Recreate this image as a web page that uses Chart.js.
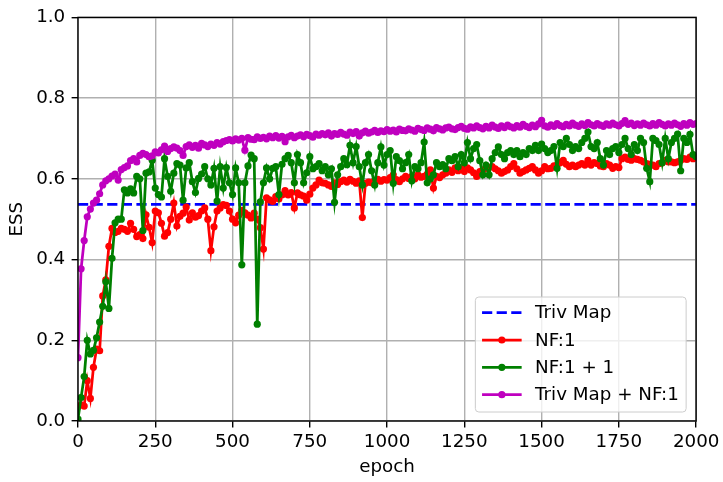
<!DOCTYPE html>
<html><head><meta charset="utf-8">
<script src="https://cdn.jsdelivr.net/npm/chart.js@4.4.0/dist/chart.umd.min.js"></script>
<style>html,body{margin:0;padding:0;background:#fff;}canvas{display:block;}</style>
</head><body>
<canvas id="c" width="723" height="482"></canvas>
<script>
const epochs = [
  0,10,20,30,40,50,60,70,80,90,
  100,110,120,130,140,150,160,170,180,190,
  200,210,220,230,240,250,260,270,280,290,
  300,310,320,330,340,350,360,370,380,390,
  400,410,420,430,440,450,460,470,480,490,
  500,510,520,530,540,550,560,570,580,590,
  600,610,620,630,640,650,660,670,680,690,
  700,710,720,730,740,750,760,770,780,790,
  800,810,820,830,840,850,860,870,880,890,
  900,910,920,930,940,950,960,970,980,990,
  1000,1010,1020,1030,1040,1050,1060,1070,1080,1090,
  1100,1110,1120,1130,1140,1150,1160,1170,1180,1190,
  1200,1210,1220,1230,1240,1250,1260,1270,1280,1290,
  1300,1310,1320,1330,1340,1350,1360,1370,1380,1390,
  1400,1410,1420,1430,1440,1450,1460,1470,1480,1490,
  1500,1510,1520,1530,1540,1550,1560,1570,1580,1590,
  1600,1610,1620,1630,1640,1650,1660,1670,1680,1690,
  1700,1710,1720,1730,1740,1750,1760,1770,1780,1790,
  1800,1810,1820,1830,1840,1850,1860,1870,1880,1890,
  1900,1910,1920,1930,1940,1950,1960,1970,1980,1990,
  2000
];

const trivMapESS = 0.537;

const nf1 = [
  0.035,0.040,0.037,0.100,0.056,0.133,0.178,0.174,0.310,0.350,
  0.433,0.477,0.467,0.470,0.477,0.475,0.470,0.490,0.475,0.457,
  0.462,0.452,0.511,0.480,0.442,0.520,0.516,0.490,0.458,0.467,
  0.500,0.540,0.483,0.507,0.515,0.530,0.498,0.516,0.505,0.509,
  0.520,0.528,0.500,0.422,0.481,0.520,0.528,0.536,0.534,0.520,
  0.500,0.491,0.510,0.522,0.516,0.510,0.503,0.515,0.500,0.479,
  0.426,0.553,0.548,0.544,0.556,0.550,0.560,0.571,0.560,0.566,
  0.528,0.565,0.560,0.557,0.547,0.562,0.577,0.585,0.597,0.590,
  0.589,0.585,0.581,0.590,0.586,0.593,0.597,0.592,0.599,0.594,
  0.589,0.595,0.504,0.589,0.592,0.590,0.596,0.599,0.594,0.598,
  0.597,0.603,0.610,0.598,0.593,0.600,0.606,0.601,0.606,0.600,
  0.610,0.604,0.606,0.612,0.622,0.577,0.606,0.603,0.610,0.614,
  0.622,0.616,0.627,0.620,0.627,0.618,0.627,0.622,0.615,0.606,
  0.618,0.622,0.626,0.628,0.630,0.625,0.620,0.614,0.618,0.622,
  0.630,0.638,0.625,0.614,0.618,0.622,0.626,0.630,0.622,0.614,
  0.620,0.630,0.625,0.626,0.632,0.634,0.640,0.646,0.636,0.630,
  0.634,0.630,0.634,0.638,0.634,0.646,0.634,0.640,0.638,0.632,
  0.630,0.638,0.634,0.626,0.630,0.628,0.650,0.654,0.648,0.646,
  0.650,0.648,0.646,0.642,0.638,0.636,0.634,0.630,0.638,0.640,
  0.646,0.642,0.642,0.640,0.642,0.646,0.650,0.648,0.654,0.650,
  0.654
];

const nf1plus1 = [
  0.005,0.058,0.110,0.200,0.166,0.175,0.206,0.245,0.284,0.345,
  0.279,0.403,0.491,0.500,0.500,0.573,0.565,0.575,0.565,0.606,
  0.600,0.472,0.614,0.617,0.646,0.577,0.561,0.555,0.650,0.606,
  0.569,0.614,0.638,0.634,0.547,0.627,0.640,0.593,0.566,0.601,
  0.612,0.630,0.600,0.585,0.626,0.545,0.630,0.577,0.628,0.590,
  0.561,0.627,0.590,0.387,0.590,0.632,0.659,0.650,0.240,0.543,
  0.590,0.627,0.600,0.626,0.630,0.561,0.636,0.650,0.658,0.640,
  0.590,0.660,0.640,0.590,0.615,0.655,0.625,0.630,0.638,0.620,
  0.630,0.610,0.625,0.542,0.610,0.630,0.650,0.635,0.683,0.640,
  0.680,0.630,0.585,0.640,0.660,0.620,0.585,0.640,0.679,0.634,
  0.660,0.670,0.589,0.655,0.645,0.625,0.640,0.660,0.595,0.630,
  0.625,0.640,0.691,0.590,0.600,0.610,0.640,0.630,0.635,0.625,
  0.650,0.645,0.655,0.630,0.660,0.640,0.690,0.650,0.675,0.685,
  0.645,0.610,0.634,0.610,0.650,0.665,0.679,0.660,0.650,0.665,
  0.670,0.660,0.670,0.655,0.665,0.660,0.675,0.670,0.683,0.670,
  0.686,0.675,0.665,0.670,0.680,0.626,0.690,0.680,0.700,0.685,
  0.670,0.680,0.675,0.690,0.700,0.716,0.680,0.675,0.690,0.650,
  0.634,0.670,0.660,0.675,0.680,0.665,0.685,0.700,0.675,0.660,
  0.685,0.670,0.700,0.690,0.626,0.593,0.700,0.695,0.685,0.640,
  0.700,0.650,0.690,0.700,0.711,0.620,0.700,0.690,0.710,0.660,
  0.655
];

const trivMapNf1 = [
  0.157,0.377,0.447,0.506,0.525,0.540,0.547,0.563,0.585,0.595,
  0.600,0.607,0.612,0.597,0.623,0.628,0.632,0.645,0.650,0.642,
  0.658,0.663,0.660,0.655,0.657,0.667,0.664,0.672,0.681,0.668,
  0.675,0.679,0.676,0.670,0.658,0.680,0.684,0.678,0.683,0.676,
  0.688,0.684,0.680,0.686,0.683,0.690,0.686,0.692,0.695,0.697,
  0.694,0.699,0.696,0.700,0.671,0.702,0.698,0.697,0.704,0.700,
  0.703,0.699,0.706,0.702,0.707,0.701,0.705,0.692,0.704,0.708,
  0.702,0.706,0.709,0.704,0.710,0.707,0.703,0.711,0.708,0.712,
  0.709,0.714,0.706,0.712,0.710,0.715,0.711,0.708,0.716,0.712,
  0.717,0.706,0.714,0.718,0.713,0.716,0.720,0.715,0.719,0.717,
  0.722,0.718,0.721,0.716,0.723,0.720,0.719,0.724,0.721,0.718,
  0.725,0.722,0.720,0.726,0.723,0.719,0.727,0.724,0.721,0.726,
  0.728,0.724,0.722,0.727,0.730,0.725,0.723,0.729,0.726,0.731,
  0.727,0.724,0.730,0.726,0.733,0.728,0.725,0.731,0.727,0.733,
  0.729,0.726,0.732,0.728,0.735,0.730,0.727,0.733,0.729,0.736,
  0.745,0.731,0.728,0.734,0.730,0.737,0.732,0.729,0.735,0.731,
  0.738,0.733,0.730,0.736,0.732,0.739,0.734,0.731,0.737,0.733,
  0.730,0.736,0.733,0.738,0.734,0.731,0.737,0.744,0.735,0.738,
  0.732,0.736,0.733,0.738,0.734,0.731,0.737,0.733,0.739,0.735,
  0.731,0.736,0.733,0.738,0.734,0.730,0.737,0.733,0.739,0.735,
  0.737
];

const xTicks = [0,250,500,750,1000,1250,1500,1750,2000];
const yTicks = [0.0,0.2,0.4,0.6,0.8,1.0];
const seriesLabels = ['Triv Map','NF:1','NF:1 + 1','Triv Map + NF:1'];
const seriesColors = ['#0000ff','#ff0000','#008000','#bf00bf'];

const FONT = 'DejaVu Sans';
const FS = 18.3;
const LW = 2.75;
const DASH = [10.2, 4.4];
const MR = 3.6;

function pts(ys){ return epochs.map((e,i)=>({x:e, y:ys[i]})); }

const seriesDefs = [
  {label: seriesLabels[0], color: seriesColors[0], data: [{x:epochs[0],y:trivMapESS},{x:epochs[epochs.length-1],y:trivMapESS}], dashed:true, marker:false},
  {label: seriesLabels[1], color: seriesColors[1], data: pts(nf1), dashed:false, marker:true},
  {label: seriesLabels[2], color: seriesColors[2], data: pts(nf1plus1), dashed:false, marker:true},
  {label: seriesLabels[3], color: seriesColors[3], data: pts(trivMapNf1), dashed:false, marker:true},
];

// Chart.js draws index 0 on top, so reverse (later-plotted series on top)
const datasets = seriesDefs.slice().reverse().map(s => ({
  label: s.label,
  data: s.data,
  borderColor: s.color,
  backgroundColor: s.color,
  borderWidth: LW,
  borderDash: s.dashed ? DASH : [],
  pointRadius: s.marker ? MR : 0,
  pointBorderWidth: 0,
  pointBackgroundColor: s.color,
  pointHoverRadius: 0,
  tension: 0,
  fill: false,
  clip: 0
}));

const frame = {
  id: 'frame',
  afterDatasetsDraw(chart){
    const {ctx, chartArea:a} = chart;
    ctx.save();
    ctx.strokeStyle = '#000';
    ctx.lineWidth = 1.4;
    ctx.strokeRect(a.left, a.top, a.right - a.left, a.bottom - a.top);
    ctx.restore();
  },
  afterDraw(chart){
    const {ctx, chartArea:a} = chart;
    ctx.save();
    ctx.font = FS + 'px "' + FONT + '"';
    let maxW = 0;
    seriesDefs.forEach(s => { maxW = Math.max(maxW, ctx.measureText(s.label).width); });
    const padL = 6.7, handle = 39.6, gap = 13.4, padR = 7.3;
    const w = padL + handle + gap + maxW + padR;
    const h = 115;
    const right = a.right - 10, bottom = a.bottom - 9;
    const left = right - w, top = bottom - h;
    const r = 3.5;
    ctx.beginPath();
    ctx.moveTo(left + r, top);
    ctx.lineTo(right - r, top);
    ctx.quadraticCurveTo(right, top, right, top + r);
    ctx.lineTo(right, bottom - r);
    ctx.quadraticCurveTo(right, bottom, right - r, bottom);
    ctx.lineTo(left + r, bottom);
    ctx.quadraticCurveTo(left, bottom, left, bottom - r);
    ctx.lineTo(left, top + r);
    ctx.quadraticCurveTo(left, top, left + r, top);
    ctx.closePath();
    ctx.fillStyle = 'rgba(255,255,255,0.8)';
    ctx.fill();
    ctx.strokeStyle = '#cccccc';
    ctx.lineWidth = 1;
    ctx.stroke();
    const rows = [15.7, 43, 70.3, 97.7];
    seriesDefs.forEach((s, i) => {
      const y = top + rows[i];
      const x0 = left + padL, x1 = x0 + handle;
      ctx.beginPath();
      ctx.setLineDash(s.dashed ? DASH : []);
      ctx.strokeStyle = s.color;
      ctx.lineWidth = LW;
      ctx.moveTo(x0, y); ctx.lineTo(x1, y);
      ctx.stroke();
      ctx.setLineDash([]);
      if (s.marker) {
        ctx.beginPath();
        ctx.fillStyle = s.color;
        ctx.arc((x0 + x1) / 2, y, MR, 0, Math.PI * 2);
        ctx.fill();
      }
      ctx.fillStyle = '#000';
      ctx.textAlign = 'left';
      ctx.textBaseline = 'middle';
      ctx.fillText(s.label, x1 + gap, y + 1);
    });
    ctx.restore();
  }
};

Chart.defaults.color = '#000';
Chart.defaults.font.family = FONT;
Chart.defaults.font.size = FS;

new Chart(document.getElementById('c'), {
  type: 'line',
  data: { datasets },
  options: {
    responsive: false,
    animation: false,
    devicePixelRatio: 1,
    layout: { padding: { left: 0, right: 25, top: 11, bottom: 0 } },
    plugins: { legend: { display: false }, tooltip: { enabled: false } },
    events: [],
    scales: {
      x: {
        type: 'linear',
        min: xTicks[0],
        max: xTicks[xTicks.length - 1],
        afterBuildTicks: s => { s.ticks = xTicks.map(v => ({value: v})); },
        afterFit: s => { s.height = 61; },
        ticks: { color: '#000', padding: 3.6, maxRotation: 0, autoSkip: false, font: {size: FS, family: FONT}, callback: v => String(v) },
        grid: { color: '#b0b0b0', lineWidth: 1.4, tickLength: 6.4, tickColor: '#000', tickWidth: 1.4, drawTicks: true },
        border: { display: false },
        title: { display: true, text: 'epoch', color: '#000', font: {size: FS, family: FONT}, padding: {top: 0, bottom: 4} }
      },
      y: {
        type: 'linear',
        min: yTicks[0],
        max: yTicks[yTicks.length - 1],
        afterBuildTicks: s => { s.ticks = yTicks.map(v => ({value: v})); },
        afterFit: s => { s.width = 78; },
        ticks: { color: '#000', padding: 6.4, font: {size: FS, family: FONT}, callback: v => Number(v).toFixed(1) },
        grid: { color: '#b0b0b0', lineWidth: 1.4, tickLength: 6.4, tickColor: '#000', tickWidth: 1.4, drawTicks: true },
        border: { display: false },
        title: { display: true, text: 'ESS', color: '#000', font: {size: FS, family: FONT}, padding: {top: 6, bottom: 0} }
      }
    }
  },
  plugins: [frame]
});
</script>
</body></html>
